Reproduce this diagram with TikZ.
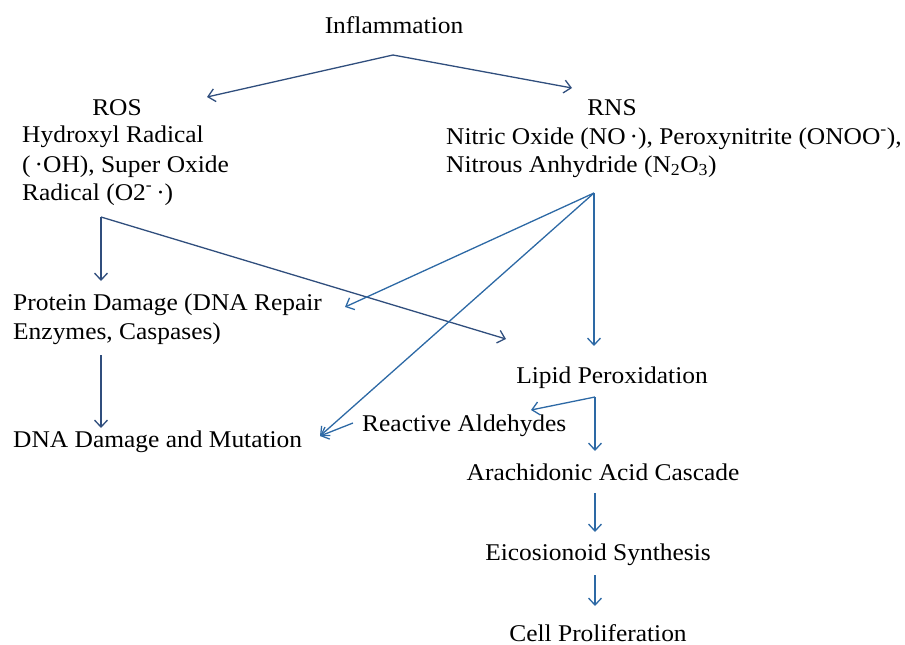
\documentclass[tikz,border=0pt]{standalone}
\usepackage{fontspec}
\setmainfont{Liberation Serif}[FakeStretch=1.06]
\usetikzlibrary{arrows.meta}
\definecolor{navy}{RGB}{48,78,125}
\definecolor{steel}{RGB}{45,105,165}
\begin{document}
\begin{tikzpicture}[x=1pt,y=-1pt,
  lbl/.style={inner sep=0pt, font=\fontsize{24}{29}\selectfont},
  arr/.style={line width=1.3pt, -{Straight Barb[length=7pt,width=13pt]}, draw=#1},
  arr/.default=steel]
\useasboundingbox (0,0) rectangle (905,645);
% texts
\node[lbl, anchor=base] (infl) at (394,34) {Inflammation};
\node[lbl, anchor=base] (ros) at (117,115) {ROS};
\node[lbl, anchor=base west] (rosA) at (22,142) {Hydroxyl Radical};
\node[lbl, anchor=base west] (rosB) at (22,172) {(\,·OH), Super Oxide};
\node[lbl, anchor=base west] (rosC) at (22,200) {Radical (O2\textsuperscript{-}\,·)};
\node[lbl, anchor=base] (rns) at (612,115) {RNS};
\node[lbl, anchor=base west] (rnsA) at (446,144) {Nitric Oxide (NO\,·), Peroxynitrite (ONOO\textsuperscript{-}),};
\node[lbl, anchor=base west] (rnsB) at (446,172) {Nitrous Anhydride (N\textsubscript{2}O\textsubscript{3})};
\node[lbl, anchor=base west] (protA) at (13,310) {Protein Damage (DNA Repair};
\node[lbl, anchor=base west] (protB) at (13,339) {Enzymes, Caspases)};
\node[lbl, anchor=base west] (dna) at (13,447) {DNA Damage and Mutation};
\node[lbl, anchor=base] (lipid) at (612,383) {Lipid Peroxidation};
\node[lbl, anchor=base west] (ald) at (362,431) {Reactive Aldehydes};
\node[lbl, anchor=base] (arach) at (603,480) {Arachidonic Acid Cascade};
\node[lbl, anchor=base] (eico) at (598,560) {Eicosionoid Synthesis};
\node[lbl, anchor=base] (cell) at (598,641) {Cell Proliferation};
% hubs and tips
\coordinate (ih) at (393,55);
\coordinate (rosT) at (207,97);
\coordinate (rnsT) at (572,88);
\coordinate (rh) at (101,217);
\coordinate (protT) at (101,281);
\coordinate (lipT) at (506,339);
\coordinate (nh) at (594,193);
\coordinate (lipT2) at (594,346);
\coordinate (protT2) at (345,307);
\coordinate (dnaT) at (320,436);
\coordinate (protS) at (101,355);
\coordinate (dnaT2) at (101,428);
\coordinate (aldS) at (353,423);
\coordinate (lh) at (595,397);
\coordinate (aldT) at (531,410);
\coordinate (arachT) at (595,451);
\coordinate (arachS) at (595,493);
\coordinate (eicoT) at (595,532);
\coordinate (eicoS) at (595,575);
\coordinate (cellT) at (595,606);
% connectors
\draw[arr=navy] (ih) -- (rosT);
\draw[arr=navy] (ih) -- (rnsT);
\draw[arr=navy] (rh) -- (protT);
\draw[arr=navy] (rh) -- (lipT);
\draw[arr] (nh) -- (lipT2);
\draw[arr] (nh) -- (protT2);
\draw[arr] (nh) -- (dnaT);
\draw[arr=navy] (protS) -- (dnaT2);
\draw[arr] (aldS) -- (dnaT);
\draw[arr] (lh) -- (aldT);
\draw[arr] (lh) -- (arachT);
\draw[arr] (arachS) -- (eicoT);
\draw[arr] (eicoS) -- (cellT);
\end{tikzpicture}
\end{document}
